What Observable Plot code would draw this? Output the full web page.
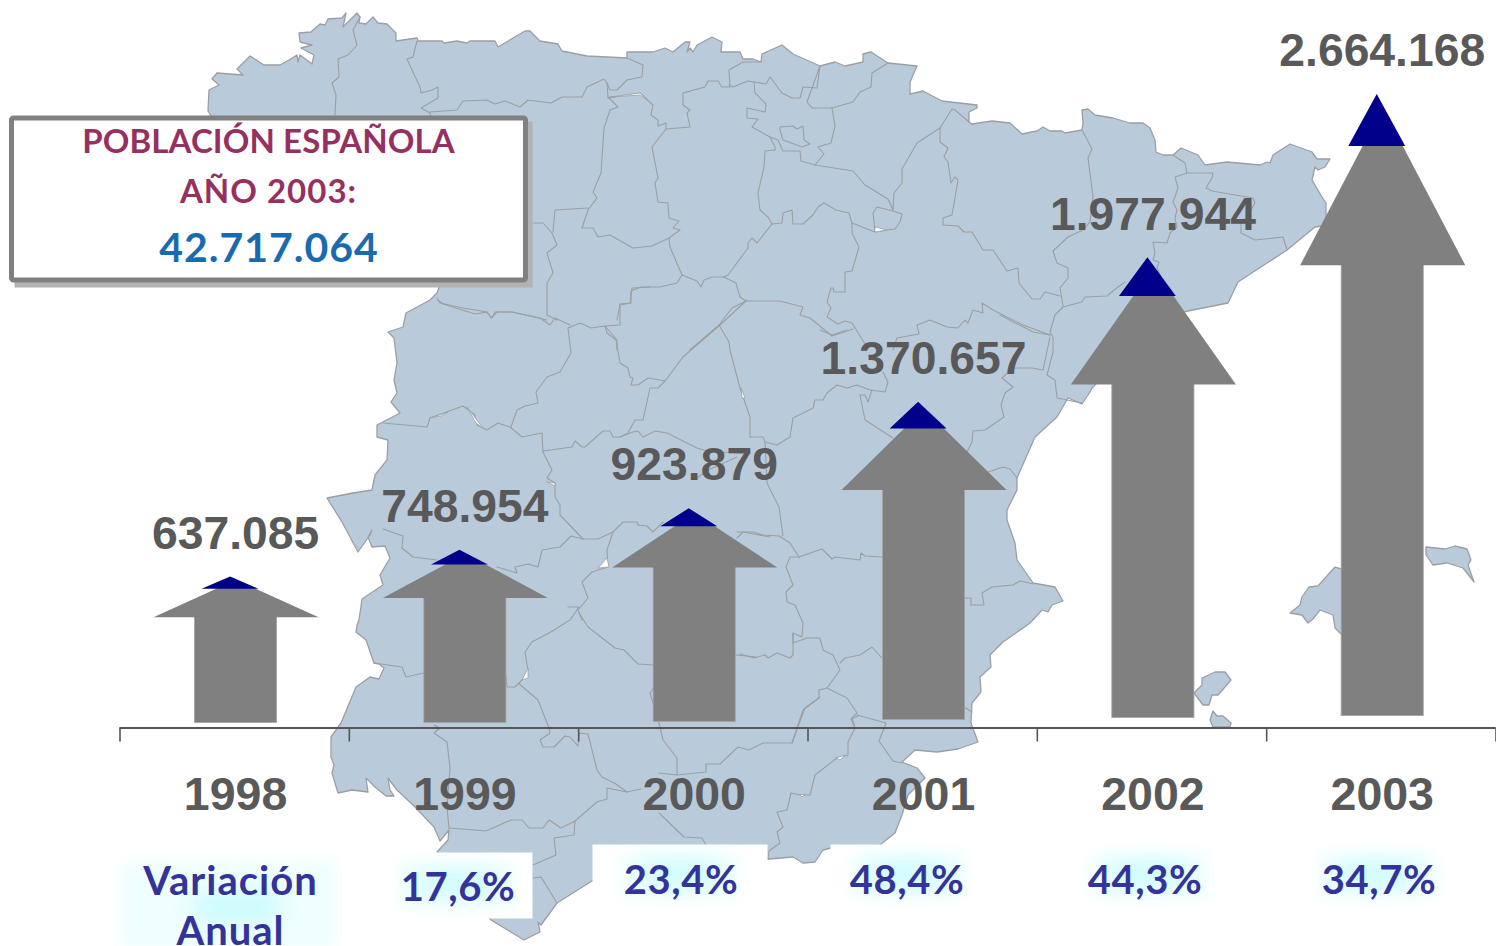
<!DOCTYPE html>
<html lang="es">
<head>
<meta charset="utf-8">
<script src="https://cdn.jsdelivr.net/npm/d3@7"></script>
<script src="https://cdn.jsdelivr.net/npm/@observablehq/plot@0.6"></script>
<style>
html,body{margin:0;padding:0;background:#fff;overflow:hidden}
svg{display:block}
.glowOuter{filter:blur(7px)}
.glowInner{filter:blur(11px)}
.boxtitle text{letter-spacing:0.1px}
.boxyear text{letter-spacing:1px}
.boxnum text{letter-spacing:1px}
.pct text{letter-spacing:0.6px}
.pcttitle text{letter-spacing:1px}
</style>
</head>
<body>
<script>
// ---- chart data ----
const years = [1998, 1999, 2000, 2001, 2002, 2003];
const values = [637085, 748954, 923879, 1370657, 1977944, 2664168];
const valueLabels = ["637.085", "748.954", "923.879", "1.370.657", "1.977.944", "2.664.168"];
const shaftFoot = [21000, 21000, 25000, 34000, 42000, 50000];
const variation = ["17,6%", "23,4%", "48,4%", "44,3%", "34,7%"];
const variationYears = [1999, 2000, 2001, 2002, 2003];
const boxTitle = "POBLACIÓN ESPAÑOLA";
const boxYear = "AÑO 2003:";
const boxNumber = "42.717.064";
const variationTitle = ["Variación", "Anual"];

// ---- background map (picture units) ----
const coast = [[208,111],[209,90],[219,85],[212,79],[217,73],[243,75],[237,69],[250,56],[264,65],[280,65],[289,60],[297,55],[298,62],[300,55],[312,64],[314,55],[301,48],[312,45],[300,42],[299,33],[311,32],[320,24],[325,25],[328,19],[342,18],[346,13],[343,27],[357,13],[360,17],[359,23],[366,24],[373,17],[378,23],[387,24],[396,33],[396,41],[417,38],[418,41],[442,41],[444,43],[457,41],[467,43],[470,41],[495,41],[498,47],[525,31],[530,31],[540,41],[558,44],[562,51],[587,56],[627,58],[627,52],[653,52],[665,48],[673,52],[685,42],[690,42],[687,52],[690,48],[693,52],[697,45],[712,37],[722,42],[721,52],[740,52],[743,59],[753,59],[761,62],[762,54],[782,45],[793,54],[820,66],[835,62],[845,66],[863,62],[863,54],[871,52],[888,63],[917,66],[910,82],[910,94],[923,91],[942,101],[977,105],[977,108],[969,112],[969,122],[972,124],[992,121],[1010,123],[1022,134],[1037,131],[1043,127],[1050,131],[1062,131],[1065,133],[1082,130],[1083,123],[1082,110],[1088,109],[1095,115],[1113,118],[1130,123],[1143,123],[1150,128],[1155,140],[1156,152],[1163,155],[1173,155],[1181,148],[1198,155],[1205,165],[1227,162],[1260,165],[1267,162],[1270,163],[1273,155],[1290,144],[1312,152],[1317,159],[1330,159],[1325,167],[1318,170],[1315,167],[1312,180],[1322,197],[1326,203],[1326,218],[1322,226],[1315,227],[1287,250],[1238,282],[1228,303],[1183,312],[1130,345],[1095,385],[1092,388],[1090,392],[1082,404],[1068,398],[1057,417],[1035,437],[1017,478],[1017,490],[1007,510],[1007,520],[1015,543],[1017,560],[1033,583],[1055,587],[1063,601],[1052,605],[1048,612],[1042,610],[1030,623],[1003,642],[990,655],[991,667],[980,677],[981,692],[972,703],[971,723],[978,742],[958,749],[937,752],[915,750],[902,762],[917,768],[925,778],[908,795],[902,815],[895,833],[880,845],[831,848],[823,850],[815,862],[803,863],[793,857],[769,859],[700,870],[592,881],[557,903],[541,925],[538,922],[540,932],[524,940],[491,920],[437,852],[448,840],[449,830],[440,841],[434,827],[415,807],[397,790],[388,778],[390,790],[394,796],[386,796],[375,787],[366,778],[368,792],[352,790],[338,793],[332,773],[334,765],[331,757],[331,737],[341,723],[356,687],[370,677],[379,679],[384,668],[379,664],[374,663],[366,640],[356,632],[357,625],[359,620],[362,599],[383,585],[380,575],[390,558],[385,546],[372,547],[368,537],[372,530],[370,535],[358,552],[342,522],[327,498],[353,493],[372,490],[375,475],[387,460],[388,440],[377,437],[377,425],[400,413],[391,402],[397,393],[394,380],[397,363],[394,338],[388,332],[403,327],[406,313],[430,300],[437,293],[440,285],[300,250]];
const mallorca = [[1290,613],[1300,605],[1302,597],[1309,587],[1318,586],[1335,567],[1342,569],[1360,580],[1342,635],[1335,628],[1333,615],[1320,610],[1313,619],[1308,623],[1302,615]];
const menorca = [[1426,547],[1445,549],[1455,546],[1467,549],[1471,560],[1468,565],[1474,582],[1463,568],[1447,563],[1433,565],[1426,555]];
const ibiza = [[1194,693],[1202,685],[1202,678],[1215,672],[1225,672],[1231,680],[1218,695],[1212,695],[1209,705],[1203,705]];
const formentera = [[1213,711],[1217,716],[1223,716],[1231,723],[1230,727],[1213,727],[1210,720]];
const borders = [
[[360,17],[353,30],[357,45],[348,55],[338,59],[339,77],[332,83],[336,95],[335,115]],
[[417,41],[413,57],[407,59],[420,87],[421,93],[432,90],[438,87],[438,98],[421,108],[430,113],[431,116]],
[[430,112],[457,110],[463,101],[487,100],[495,104],[505,101],[520,107],[528,100],[551,103],[562,97],[582,97],[587,87],[604,79],[607,83],[608,97]],
[[607,83],[610,90],[617,90],[627,80],[642,77],[643,65],[627,58]],
[[608,97],[618,107],[610,110],[604,128],[601,173],[593,192],[597,198],[588,210]],
[[533,223],[543,223],[552,233],[557,245],[547,253],[553,273],[547,283],[547,315],[557,320]],
[[588,208],[555,210],[553,232]],
[[588,210],[582,228],[593,228],[598,237],[610,235],[633,248],[652,246],[669,238]],
[[650,287],[632,288],[630,303],[620,304],[617,320]],
[[437,298],[440,303],[463,308],[487,312],[492,318],[495,312],[512,312],[547,320]],
[[608,98],[640,93],[653,105],[651,115],[658,120],[658,126],[666,123],[666,129],[652,147],[658,178],[655,183],[658,202],[668,203],[669,218],[679,221],[673,228],[680,230],[669,238],[670,247],[682,275]],
[[666,129],[690,127],[687,113],[690,110],[683,105],[683,93],[705,87],[708,81],[718,81],[722,87],[730,87],[729,70],[743,62],[761,62]],
[[729,85],[733,87],[748,81],[766,84],[770,77],[782,93],[792,98],[800,98],[803,87],[817,88],[820,66]],
[[754,83],[755,93],[766,104],[765,112],[747,108],[747,118],[758,119],[752,127],[770,137],[778,140],[783,151],[800,151],[801,161],[815,165]],
[[780,127],[793,126],[797,129],[803,126],[804,140],[810,144],[802,147],[783,140],[780,130],[780,127]],
[[820,66],[807,102],[812,108],[832,108],[835,126],[831,143],[818,147],[824,154],[815,165]],
[[888,63],[872,73],[871,87],[860,92],[853,102],[832,108]],
[[770,137],[775,147],[775,150],[765,151],[764,167],[758,193],[760,210],[768,217],[772,224]],
[[772,224],[757,243],[752,238],[748,243],[748,248],[728,275],[724,277],[712,277],[704,280],[701,287],[697,281],[682,275]],
[[772,224],[782,223],[783,213],[792,210],[793,224],[803,224],[813,215],[818,207],[824,203],[836,210],[849,213],[852,223],[875,232],[887,230],[895,229],[900,222],[902,214],[893,211],[877,207],[873,213],[875,230]],
[[815,165],[853,171],[865,185],[888,199],[893,210]],
[[940,128],[917,143],[902,169],[902,183],[894,193],[893,210]],
[[940,128],[940,142],[948,148],[944,157],[948,162],[951,183],[955,177],[958,180],[952,215],[943,218],[943,225],[958,226],[964,232],[972,232],[983,250],[993,250],[1007,271],[1018,268],[1019,283],[1032,299],[1040,299],[1045,292],[1060,296]],
[[940,128],[952,109],[955,110],[969,122]],
[[852,223],[852,233],[859,247],[852,271],[845,272],[845,292],[834,292],[833,288],[831,288],[827,302],[831,308],[827,317],[838,324],[845,321],[852,323],[867,347]],
[[682,275],[677,283],[660,287],[641,287],[631,291],[631,303],[620,305],[620,325],[605,326],[617,340],[617,350]],
[[724,277],[736,283],[740,297],[746,301],[780,301],[803,307],[800,315],[810,318],[832,336],[853,329]],
[[746,301],[732,308],[719,325],[690,350]],
[[719,325],[729,342],[730,350],[740,388],[750,417],[750,437]],
[[917,325],[930,320],[947,327],[958,328],[965,320],[968,323],[973,310],[983,313],[982,303],[993,310],[1023,325],[1050,335]],
[[917,325],[919,334],[897,338],[893,350]],
[[1082,130],[1092,149],[1088,158],[1093,197],[1090,222],[1083,230],[1068,237],[1053,251],[1057,263],[1068,268],[1068,278],[1060,288],[1063,306]],
[[1000,315],[1033,332],[1050,335]],
[[1063,307],[1082,302],[1085,297],[1107,296],[1118,287],[1125,282]],
[[1063,307],[1055,315],[1050,332],[1053,337],[1053,352],[1047,375],[1055,380],[1057,398],[1082,403]],
[[1050,337],[1043,370],[1032,368],[1013,368],[1002,378],[1013,387],[1005,393],[1001,405],[1004,417],[985,430],[973,431],[972,442],[967,452]],
[[1173,155],[1185,163],[1187,173],[1175,177],[1178,188],[1173,202],[1177,210],[1175,218],[1177,227],[1170,233],[1167,243],[1153,242],[1155,253],[1153,260],[1159,262],[1157,268],[1160,275]],
[[1187,173],[1213,173],[1212,178],[1206,188],[1212,191],[1253,198],[1255,203],[1248,215],[1241,223],[1241,233],[1255,240],[1283,237],[1287,250]],
[[988,472],[1003,467],[1010,469],[1017,478]],
[[964,598],[971,598],[971,605],[984,605],[982,593],[992,587],[1013,585],[1020,581],[1033,584]],
[[860,395],[865,420],[893,438]],
[[860,395],[865,395],[868,402],[872,390]],
[[750,437],[763,437],[765,442],[777,445],[790,437],[793,418],[813,408],[815,400],[823,400],[827,393],[837,385],[847,388],[857,385],[870,390],[885,392],[888,382],[883,372]],
[[820,330],[832,335],[847,330]],
[[765,442],[767,483],[779,507],[783,536]],
[[737,532],[753,532],[763,535],[779,536],[790,543],[799,557]],
[[799,557],[822,549],[832,559],[835,557],[860,560],[861,553],[865,556],[882,557]],
[[799,557],[790,557],[786,567],[793,585],[786,592],[787,602],[795,605],[803,623],[802,637],[793,633],[793,655],[790,658],[777,653],[768,658],[765,655],[754,658],[740,654]],
[[793,633],[793,643],[807,638],[820,638],[823,650],[833,655],[840,670],[827,688],[819,690],[819,698],[803,710],[792,743]],
[[827,688],[847,698],[857,713],[852,718],[855,728]],
[[857,715],[886,723],[879,741],[893,761],[902,763]],
[[840,663],[845,658],[860,655],[872,647],[882,658]],
[[964,707],[972,712]],
[[383,423],[427,427],[430,418],[463,406],[475,415],[477,425],[487,430],[498,423],[510,427],[522,437],[542,433],[543,452]],
[[511,427],[517,410],[525,406],[538,403],[536,392],[547,377],[560,372],[571,353],[568,328],[580,323],[591,328],[605,326]],
[[438,300],[443,304],[475,314],[487,312],[491,318],[497,312],[512,312],[540,318],[550,325],[555,318],[570,325]],
[[605,326],[607,333],[616,340],[620,363],[628,368],[630,377],[633,378],[631,385],[638,385],[648,378],[665,381],[683,357],[720,325],[747,300]],
[[665,381],[658,388],[650,388],[643,420],[635,420],[628,433],[620,437]],
[[543,451],[572,447],[575,441],[582,447],[585,447],[603,431],[610,431],[613,437],[620,437],[633,432],[638,431],[643,437],[655,431],[667,433],[697,448],[707,451],[750,454]],
[[697,478],[708,470],[737,457]],
[[543,452],[552,470],[547,478],[555,483],[555,497],[560,505],[560,515],[583,539]],
[[583,539],[598,539],[613,532],[623,522],[637,522],[638,525],[647,526],[653,532],[663,522]],
[[737,538],[743,532],[770,537]],
[[383,529],[403,536],[402,548],[413,557],[437,560]],
[[497,567],[517,573],[515,567],[528,564],[538,567],[542,550],[560,547],[571,536],[583,539]],
[[613,532],[607,550],[608,567],[592,572],[582,582],[588,598],[578,610],[582,620]],
[[568,607],[579,607],[570,620],[549,633],[532,642],[525,652],[528,670],[522,680],[515,687],[507,687],[506,677]],
[[579,613],[588,627],[615,648],[624,650],[638,664],[654,665]],
[[374,663],[402,667],[406,677],[424,673]],
[[434,725],[440,728],[434,733],[447,742],[450,768],[447,807],[449,828]],
[[449,828],[486,831],[511,820],[522,820],[529,828],[543,828],[549,820],[561,828],[575,821],[597,802],[607,799],[607,788],[627,792],[641,789]],
[[575,821],[574,835],[554,838],[556,855],[533,865]],
[[533,878],[541,877],[557,903]],
[[518,683],[538,700],[549,728],[550,733],[540,740],[543,747],[554,747],[565,736],[570,737],[578,746],[579,733],[588,734],[597,770],[602,777],[616,784],[627,792]],
[[659,723],[663,740],[677,758],[677,775],[659,773]],
[[650,693],[654,687]],[[659,723],[650,693]],
[[659,813],[684,837],[702,838],[706,845]],
[[677,775],[706,772],[706,764],[720,764],[738,747],[749,750],[763,743],[792,743],[805,708],[820,697]],
[[736,655],[756,657]],
[[858,716],[851,719],[855,728],[848,742],[848,755],[837,758],[815,775],[810,795],[800,795],[791,793],[787,810],[777,812],[783,827],[777,832],[780,843],[769,851],[768,859]]
];
const slivers = [
[[610,97],[640,93],[647,100],[640,95]],
[[433,417],[448,412],[441,416]],
[[467,407],[483,428],[476,423]],
[[741,388],[745,398],[742,398]],
[[547,482],[555,483],[555,486]],
[[522,680],[528,668],[528,678]],
[[875,227],[887,230],[875,232]],
[[598,568],[607,558],[609,567]],
[[836,758],[845,755],[840,760]],
[[800,795],[805,794],[802,797]]
];

// ---- layout helpers: picture units to the chart's scales ----
const X0 = 120, X1 = 1496, Y0 = 728, Y1 = 94, VMAX = 2664168;
const xu = px => 1997.5 + (px - X0) / (X1 - X0) * 6;
const yu = py => (Y0 - py) / (Y0 - Y1) * VMAX;
const px = d => xu(d[0]), py = d => yu(d[1]);
const flat = list => list.flatMap((pts, i) => pts.map(p => ({x: xu(p[0]), y: yu(p[1]), i})));
const closed = pts => [...pts, pts[0]];

const LAND = "#b9cbda", EDGE = "#9b9fa3", GREY = "#808080", NAVY = "#00008b", TEXT = "#595959";
const SANS = "Liberation Sans", HUMAN = "Lato";
const SHAFT = 0.179, HEAD = 0.36, TIP = 0.124, TIPSHIFT = -0.026, NUDGE = 0.006;
const HEADBASE = 0.73, TIPBASE = 0.918, APEX = 0.32;

const arrows = years.map((year, i) => ({year, value: values[i], label: valueLabels[i], foot: shaftFoot[i]}));
const heads = arrows.flatMap(a => {
  const base = a.value * HEADBASE, neck = a.value * TIPBASE, apex = neck + (neck - base) * APEX, c = a.year + NUDGE;
  return [[c - HEAD, base], [c, apex], [c + HEAD, base], [c - HEAD, base]].map(([x, y]) => ({x, y, z: a.year}));
});
const tips = arrows.flatMap(a => {
  const neck = a.value * TIPBASE, c = a.year + NUDGE + TIPSHIFT;
  return [[c - TIP, neck], [c, a.value], [c + TIP, neck], [c - TIP, neck]].map(([x, y]) => ({x, y, z: a.year}));
});

const pctCentre = [458, 681, 907, 1145, 1379];
const pctY = [888, 881, 881, 881, 881];
const pct = variation.map((t, i) => ({t, year: variationYears[i], x: xu(pctCentre[i]), y: yu(pctY[i])}));
const whiteBoxes = [[394,853,533,919],[593,845,768,905],[831,845,990,905]];
const glowCentres = [[457,883],[680,874],[909,874],[1150,874],[1378,874]];
const rectRow = r => ({x1: xu(r[0]), y1: yu(r[1]), x2: xu(r[2]), y2: yu(r[3])});
const glowOuter = [[122,862,336,950], ...glowCentres.map(([x, y]) => [x - 58, y - 20, x + 58, y + 24])];
const glowInner = [[196,895,278,920], ...glowCentres.map(([x, y]) => [x - 36, y - 9, x + 36, y + 10])];

const chart = Plot.plot({
  width: 1496, height: 946,
  margin: 0,
  style: {background: "#fff", overflow: "hidden"},
  x: {type: "linear", domain: [1997.5, 2003.5], range: [X0 - 0.5, X1 - 0.5], axis: null},
  y: {type: "linear", domain: [0, VMAX], range: [Y0 - 0.5, Y1 - 0.5], axis: null},
  marks: [
    // map
    ...[coast, mallorca, menorca, ibiza, formentera].map(poly =>
      Plot.line(closed(poly), {x: px, y: py, fill: LAND, stroke: EDGE, strokeWidth: 1.3})),
    Plot.line(flat(borders), {x: "x", y: "y", z: "i", stroke: EDGE, strokeWidth: 1.1}),
    Plot.line(flat(slivers.map(closed)), {x: "x", y: "y", z: "i", fill: "#fff", stroke: EDGE, strokeWidth: 0.8}),
    // axis
    Plot.ruleY([0], {x1: 1997.5, x2: 2003.5, stroke: "#555", strokeWidth: 2}),
    Plot.ruleX([...years.map(y => y - 0.5), 2003.5], {y1: 0, y2: yu(742), stroke: "#555", strokeWidth: 1.6}),
    // arrows
    Plot.rect(arrows, {x1: d => d.year + NUDGE - SHAFT, x2: d => d.year + NUDGE + SHAFT, y1: "foot", y2: d => d.value * HEADBASE + 6000, fill: GREY, stroke: "#a3a3a3", strokeWidth: 0.8}),
    Plot.line(heads, {x: "x", y: "y", z: "z", fill: GREY, stroke: "none"}),
    Plot.line(tips, {x: "x", y: "y", z: "z", fill: NAVY, stroke: "none"}),
    // value and year labels
    Plot.text(arrows, {x: d => d.year + 0.004, y: "value", text: "label", dy: -42.5, fontFamily: SANS, fontWeight: 700, fontSize: 46.3, fill: TEXT, textAnchor: "middle"}),
    Plot.text(years, {x: d => d + 0.004, y: 0, text: d => String(d), dy: 67.5, fontFamily: SANS, fontWeight: 700, fontSize: 46.5, fill: TEXT, textAnchor: "middle"}),
    // yearly variation row
    Plot.rect(whiteBoxes.map(rectRow), {x1: "x1", x2: "x2", y1: "y1", y2: "y2", fill: "#fff", stroke: "none"}),
    Plot.rect(glowOuter.map(rectRow), {x1: "x1", x2: "x2", y1: "y1", y2: "y2", fill: "#effefe", stroke: "none", className: "glowOuter"}),
    Plot.rect(glowInner.map(rectRow), {x1: "x1", x2: "x2", y1: "y1", y2: "y2", fill: "#c4fbfd", stroke: "none", className: "glowInner"}),
    Plot.text(pct, {x: "x", y: "y", text: "t", fontFamily: HUMAN, fontWeight: 700, fontSize: 40, fill: "#333399", textAnchor: "middle", className: "pct"}),
    Plot.text(variationTitle, {x: xu(230.5), y: (d, i) => yu(882.5 + i * 50), text: d => d, fontFamily: HUMAN, fontWeight: 700, fontSize: 40, fill: "#333399", textAnchor: "middle", className: "pcttitle"}),
    // call-out box
    Plot.rect([rectRow([15,122,533,288])], {x1: "x1", x2: "x2", y1: "y1", y2: "y2", fill: "#b2b2b2", stroke: "none"}),
    Plot.rect([rectRow([12,118.5,526,280.5])], {x1: "x1", x2: "x2", y1: "y1", y2: "y2", fill: "#fff", stroke: GREY, strokeWidth: 5, rx: 2}),
    Plot.text([boxTitle], {x: xu(268.5), y: yu(142.5), text: d => d, fontFamily: HUMAN, fontWeight: 700, fontSize: 33, fill: "#963060", textAnchor: "middle", className: "boxtitle"}),
    Plot.text([boxYear], {x: xu(268.5), y: yu(192.5), text: d => d, fontFamily: HUMAN, fontWeight: 700, fontSize: 33, fill: "#963060", textAnchor: "middle", className: "boxyear"}),
    Plot.text([boxNumber], {x: xu(269), y: yu(249), text: d => d, fontFamily: HUMAN, fontWeight: 700, fontSize: 41, fill: "#1a6bad", textAnchor: "middle", className: "boxnum"})
  ]
});
document.body.appendChild(chart);
</script>
</body>
</html>
